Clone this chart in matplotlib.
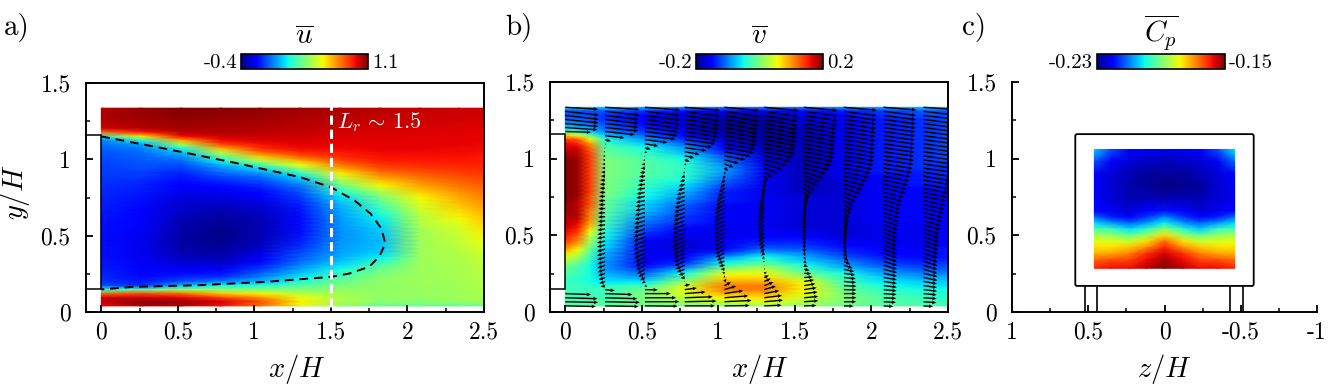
import numpy as np
import matplotlib
matplotlib.use("Agg")
from matplotlib import pyplot as plt
from matplotlib.patches import FancyBboxPatch

plt.rcParams['font.family'] = ['cmr10', 'DejaVu Serif']
plt.rcParams['mathtext.fontset'] = 'cm'
plt.rcParams['axes.unicode_minus'] = False
plt.rcParams['axes.formatter.use_mathtext'] = True

# rows shared by the u and v tables (top to bottom)
y_rows = [1.335, 1.309, 1.282, 1.256, 1.229, 1.203, 1.177, 1.150, 1.124, 1.097,
          1.071, 1.045, 1.018, .992, .965, .939, .912, .886, .860, .833,
          .807, .780, .754, .727, .701, .675, .648, .622, .595, .569,
          .542, .516, .490, .463, .437, .410, .384, .357, .331, .305,
          .278, .252, .225, .199, .172, .146, .120, .093, .067, .040]

x_u = [0, .26, .52, .78, 1.04, 1.30, 1.56, 1.82, 2.08, 2.34, 2.5]
u_mean = [
    [1.02, 1.07, 1.09, 1.09, 1.08, 1.06, 1.04, 1.02, 1.01, 1.0, 1.0],
    [1.04, 1.07, 1.09, 1.08, 1.07, 1.05, 1.03, 1.02, 1.01, 1.0, 1.0],
    [1.04, 1.06, 1.08, 1.07, 1.06, 1.04, 1.03, 1.01, 1.0, 1.0, .99],
    [1.03, 1.05, 1.07, 1.06, 1.05, 1.03, 1.02, 1.01, 1.0, .99, .98],
    [1.02, 1.04, 1.06, 1.05, 1.04, 1.03, 1.01, 1.0, .99, .98, .98],
    [1.0, 1.03, 1.05, 1.04, 1.03, 1.02, 1.0, .99, .98, .98, .97],
    [.8, .92, 1.02, 1.03, 1.02, 1.01, .99, .98, .98, .97, .97],
    [.15, .6, .95, 1.0, 1.0, 1.0, .98, .98, .97, .97, .96],
    [-.03, .18, .7, .95, .98, .98, .97, .97, .97, .96, .96],
    [-.05, .03, .42, .85, .94, .97, .96, .96, .96, .96, .95],
    [-.07, -.03, .18, .68, .9, .95, .95, .96, .96, .95, .95],
    [-.09, -.05, .07, .46, .8, .9, .93, .95, .95, .95, .94],
    [-.1, -.07, .0, .3, .65, .82, .9, .94, .94, .94, .93],
    [-.11, -.08, -.06, .16, .45, .7, .85, .92, .93, .93, .92],
    [-.12, -.09, -.1, .06, .28, .55, .78, .88, .9, .91, .91],
    [-.12, -.1, -.13, -.01, .12, .4, .7, .84, .87, .89, .9],
    [-.13, -.12, -.16, -.06, .02, .25, .6, .78, .83, .87, .88],
    [-.13, -.13, -.18, -.11, -.05, .12, .5, .72, .79, .84, .86],
    [-.14, -.15, -.2, -.15, -.1, .04, .42, .65, .75, .81, .84],
    [-.14, -.16, -.22, -.19, -.14, -.02, .33, .58, .71, .79, .82],
    [-.15, -.17, -.24, -.22, -.18, -.07, .24, .5, .67, .76, .8],
    [-.15, -.18, -.26, -.25, -.21, -.1, .17, .42, .62, .73, .78],
    [-.16, -.19, -.27, -.27, -.24, -.13, .12, .36, .58, .7, .76],
    [-.16, -.2, -.28, -.29, -.26, -.15, .09, .3, .55, .68, .74],
    [-.17, -.2, -.29, -.31, -.28, -.17, .06, .26, .52, .65, .72],
    [-.17, -.21, -.3, -.33, -.3, -.18, .04, .22, .5, .63, .7],
    [-.18, -.22, -.31, -.34, -.31, -.19, .03, .18, .48, .6, .68],
    [-.18, -.22, -.32, -.35, -.32, -.2, .02, .15, .46, .58, .66],
    [-.19, -.23, -.33, -.36, -.33, -.2, .01, .13, .45, .55, .64],
    [-.19, -.23, -.34, -.37, -.33, -.2, .01, .11, .44, .53, .62],
    [-.19, -.24, -.34, -.38, -.33, -.2, 0, .09, .43, .51, .6],
    [-.2, -.24, -.35, -.38, -.33, -.19, 0, .08, .42, .5, .58],
    [-.2, -.25, -.35, -.38, -.33, -.18, 0, .07, .42, .49, .57],
    [-.2, -.25, -.35, -.38, -.32, -.17, .01, .06, .41, .48, .55],
    [-.2, -.25, -.35, -.37, -.31, -.15, .02, .07, .41, .47, .54],
    [-.19, -.25, -.34, -.36, -.29, -.13, .02, .08, .41, .46, .52],
    [-.19, -.25, -.33, -.35, -.27, -.1, .03, .1, .41, .45, .5],
    [-.19, -.25, -.31, -.33, -.24, -.08, .05, .14, .41, .44, .49],
    [-.18, -.24, -.29, -.31, -.21, -.05, .08, .2, .41, .44, .48],
    [-.18, -.24, -.27, -.28, -.17, -.01, .12, .27, .41, .43, .47],
    [-.17, -.23, -.24, -.24, -.12, .03, .17, .32, .41, .43, .47],
    [-.16, -.22, -.2, -.19, -.07, .08, .22, .35, .41, .43, .46],
    [-.15, -.2, -.15, -.13, -.01, .14, .27, .37, .41, .43, .46],
    [-.14, -.18, -.1, -.02, .06, .2, .31, .38, .41, .42, .45],
    [-.1, -.14, .08, .17, .2, .28, .35, .39, .41, .42, .45],
    [.2, .3, .4, .38, .36, .36, .39, .39, .4, .42, .44],
    [.8, .85, .8, .65, .58, .46, .42, .39, .4, .41, .44],
    [1.0, 1.0, .97, .87, .74, .55, .44, .39, .39, .41, .43],
    [1.02, 1.08, 1.07, .99, .84, .58, .44, .38, .38, .4, .42],
    [.95, 1.04, 1.02, .94, .78, .54, .38, .3, .3, .3, .3],
]

x_v = [0, .08, .16, .26, .52, .78, 1.04, 1.30, 1.56, 1.82, 2.08, 2.34, 2.5]
v_mean = [
    [-.06, -.07, -.07, -.07, -.08, -.09, -.1, -.1, -.1, -.09, -.08, -.07, -.07],
    [-.12, -.12, -.12, -.12, -.13, -.15, -.16, -.16, -.15, -.14, -.13, -.12, -.12],
    [-.12, -.12, -.12, -.13, -.15, -.17, -.18, -.18, -.16, -.15, -.13, -.12, -.12],
    [-.11, -.11, -.12, -.13, -.15, -.17, -.19, -.19, -.17, -.15, -.14, -.13, -.12],
    [-.09, -.1, -.11, -.12, -.15, -.17, -.19, -.19, -.17, -.16, -.14, -.13, -.12],
    [-.07, -.08, -.09, -.11, -.14, -.17, -.19, -.19, -.18, -.16, -.14, -.13, -.12],
    [-.02, -.05, -.07, -.1, -.13, -.16, -.19, -.19, -.18, -.16, -.14, -.13, -.12],
    [.08, .06, -.01, -.07, -.11, -.15, -.18, -.19, -.18, -.16, -.14, -.13, -.12],
    [.14, .13, .06, -.05, -.09, -.13, -.17, -.19, -.18, -.16, -.14, -.13, -.12],
    [.16, .15, .1, -.03, -.07, -.11, -.16, -.19, -.18, -.16, -.14, -.13, -.12],
    [.17, .17, .12, -.02, -.05, -.09, -.15, -.18, -.18, -.16, -.14, -.13, -.12],
    [.18, .18, .13, -.01, -.04, -.08, -.14, -.18, -.18, -.16, -.14, -.13, -.12],
    [.19, .18, .14, -.01, -.03, -.06, -.12, -.17, -.18, -.16, -.14, -.13, -.12],
    [.2, .19, .14, 0, -.02, -.05, -.11, -.17, -.18, -.16, -.14, -.13, -.12],
    [.2, .19, .14, 0, -.02, -.04, -.1, -.16, -.18, -.16, -.14, -.13, -.13],
    [.2, .19, .14, 0, -.02, -.04, -.09, -.16, -.18, -.16, -.14, -.13, -.13],
    [.2, .19, .14, 0, -.02, -.04, -.09, -.16, -.18, -.16, -.14, -.14, -.13],
    [.2, .19, .14, 0, -.02, -.04, -.1, -.16, -.18, -.16, -.15, -.14, -.13],
    [.2, .19, .14, 0, -.03, -.05, -.11, -.16, -.18, -.17, -.15, -.14, -.14],
    [.2, .19, .14, 0, -.03, -.06, -.12, -.16, -.18, -.17, -.15, -.14, -.14],
    [.2, .19, .14, 0, -.04, -.07, -.13, -.16, -.18, -.17, -.15, -.15, -.14],
    [.2, .19, .14, 0, -.05, -.08, -.14, -.16, -.18, -.17, -.15, -.15, -.15],
    [.2, .19, .13, 0, -.05, -.09, -.14, -.16, -.17, -.17, -.15, -.15, -.15],
    [.2, .18, .13, -.01, -.06, -.1, -.14, -.16, -.17, -.17, -.15, -.15, -.15],
    [.19, .18, .13, -.01, -.07, -.11, -.15, -.16, -.17, -.17, -.15, -.15, -.15],
    [.19, .18, .12, -.01, -.07, -.12, -.15, -.16, -.17, -.17, -.15, -.15, -.15],
    [.19, .18, .11, -.02, -.08, -.12, -.15, -.16, -.17, -.17, -.15, -.15, -.15],
    [.18, .18, .11, -.02, -.09, -.13, -.15, -.16, -.17, -.17, -.15, -.15, -.15],
    [.18, .17, .1, -.03, -.1, -.13, -.15, -.16, -.17, -.17, -.15, -.15, -.15],
    [.18, .16, .09, -.03, -.11, -.14, -.16, -.16, -.17, -.17, -.16, -.16, -.15],
    [.17, .15, .07, -.04, -.12, -.15, -.16, -.16, -.17, -.17, -.16, -.16, -.15],
    [.16, .14, .05, -.05, -.13, -.16, -.16, -.15, -.16, -.17, -.16, -.16, -.15],
    [.15, .12, .03, -.05, -.14, -.16, -.16, -.15, -.15, -.17, -.16, -.16, -.15],
    [.14, .11, .02, -.06, -.15, -.17, -.16, -.14, -.14, -.16, -.16, -.16, -.15],
    [.12, .09, .01, -.06, -.15, -.17, -.15, -.13, -.13, -.15, -.16, -.16, -.15],
    [.1, .06, -.01, -.07, -.16, -.17, -.15, -.11, -.12, -.14, -.15, -.15, -.14],
    [.07, .04, -.02, -.08, -.16, -.16, -.13, -.08, -.1, -.13, -.15, -.15, -.14],
    [.04, .02, -.03, -.08, -.16, -.15, -.09, -.05, -.08, -.12, -.14, -.15, -.14],
    [.02, 0, -.04, -.09, -.16, -.14, -.06, -.03, -.07, -.1, -.13, -.14, -.13],
    [0, -.02, -.05, -.09, -.15, -.12, -.03, 0, -.05, -.09, -.12, -.13, -.12],
    [-.01, -.03, -.05, -.09, -.13, -.08, .01, .03, -.03, -.07, -.1, -.12, -.11],
    [-.02, -.03, -.05, -.08, -.11, -.05, .05, .05, -.01, -.05, -.09, -.1, -.1],
    [-.03, -.04, -.05, -.07, -.09, -.02, .07, .07, .02, -.04, -.07, -.09, -.08],
    [-.03, -.04, -.05, -.06, -.06, .01, .09, .09, .05, -.03, -.06, -.07, -.07],
    [-.03, -.03, -.04, -.04, -.03, .04, .11, .11, .06, -.02, -.05, -.06, -.06],
    [-.03, -.03, -.03, -.03, -.01, .05, .11, .11, .06, -.01, -.04, -.05, -.05],
    [-.03, -.03, -.03, -.03, 0, .05, .09, .09, .05, 0, -.03, -.04, -.05],
    [-.03, -.03, -.03, -.03, 0, .03, .06, .07, .04, 0, -.02, -.03, -.04],
    [-.02, -.02, -.02, -.02, 0, .02, .04, .05, .03, 0, -.02, -.03, -.03],
    [-.02, -.02, -.02, -.02, -.01, 0, .01, .02, .01, -.01, -.02, -.02, -.03],
]

z_cp = [.46, .35, .23, .12, 0, -.12, -.23, -.35, -.46]
y_cp = [1.06, .98, .9, .82, .74, .66, .62, .58, .54, .5, .46, .42, .38, .34, .285]
cp_mean = [
    [-.204, -.214, -.220, -.222, -.222, -.222, -.220, -.214, -.202],
    [-.214, -.222, -.224, -.225, -.226, -.225, -.224, -.222, -.212],
    [-.220, -.224, -.226, -.228, -.228, -.228, -.226, -.224, -.220],
    [-.222, -.224, -.227, -.228, -.230, -.229, -.228, -.224, -.222],
    [-.221, -.224, -.226, -.226, -.226, -.226, -.226, -.224, -.222],
    [-.220, -.222, -.224, -.221, -.219, -.221, -.224, -.222, -.220],
    [-.212, -.218, -.220, -.216, -.210, -.216, -.220, -.218, -.212],
    [-.203, -.208, -.212, -.208, -.201, -.208, -.212, -.208, -.203],
    [-.194, -.196, -.202, -.198, -.188, -.198, -.204, -.196, -.194],
    [-.186, -.188, -.192, -.187, -.176, -.187, -.192, -.188, -.186],
    [-.180, -.180, -.182, -.176, -.166, -.176, -.182, -.180, -.180],
    [-.176, -.176, -.174, -.169, -.160, -.169, -.174, -.176, -.176],
    [-.172, -.171, -.168, -.161, -.156, -.161, -.168, -.171, -.172],
    [-.166, -.164, -.163, -.158, -.153, -.158, -.163, -.164, -.166],
    [-.160, -.158, -.158, -.154, -.150, -.154, -.158, -.158, -.160],
]

# dividing streamline of panel a
sep_x = [0, .43, .86, 1.3, 1.5, 1.655, 1.76, 1.83, 1.855, 1.817, 1.75, 1.62, 1.5, 1.08, .643, .21, 0]
sep_y = [1.15, 1.067, .98, .883, .817, .73, .643, .546, .448, .365, .296, .252, .23, .198, .176, .165, .148]

# arrow stations: columns of u_mean and v_mean
station_u = [0, 1, 2, 3, 4, 5, 6, 7, 8, 9]
station_v = [0, 3, 4, 5, 6, 7, 8, 9, 10, 11]
body_top = 1.16
body_bottom = .15
arrow_scale = .21

W, H = 1330, 384
fig = plt.figure(figsize=(W / 100, H / 100), dpi=100)


def px_axes(left, right, top, bottom):
    return fig.add_axes([left / W, 1 - bottom / H, (right - left) / W, (bottom - top) / H])


def style_axes(ax, xticks, xlabels, xminor, xlabel, label_x, ylabel=None):
    ax.set_ylim(0, 1.5)
    ax.set_xticks(xticks)
    ax.set_xticklabels(xlabels)
    ax.set_xticks(xminor, minor=True)
    ax.set_yticks([0, .5, 1, 1.5])
    ax.set_yticklabels(['0', '0.5', '1', '1.5'])
    ax.set_yticks([.25, .75, 1.25], minor=True)
    ax.tick_params(which='major', direction='in', length=5, width=1.3, labelsize=17)
    ax.tick_params(which='minor', direction='in', length=3, width=1.1)
    ax.tick_params(axis='x', which='major', pad=7)
    ax.tick_params(axis='y', which='major', pad=11)
    for s in ax.spines.values():
        s.set_linewidth(1.4)
    ax.set_xlabel(xlabel, fontsize=20.5, labelpad=6)
    ax.xaxis.label.set_x(label_x)
    if ylabel:
        ax.set_ylabel(ylabel, fontsize=20.5, labelpad=6)
        ax.yaxis.label.set_y(.524)


def colorbar(mesh, left, right, title, lo, hi, title_y=37):
    cax = px_axes(left, right, 54, 69)
    cb = fig.colorbar(mesh, cax=cax, orientation='horizontal')
    cb.set_ticks([])
    cb.outline.set_linewidth(1.2)
    fig.text((left - 4) / W, 1 - 63 / H, lo, ha='right', va='center', fontsize=15)
    fig.text((right + 4) / W, 1 - 63 / H, hi, ha='left', va='center', fontsize=15)
    fig.text((left + right) / 2 / W, 1 - title_y / H, title, ha='center', va='center', fontsize=21)


def draw_body(ax):
    ax.plot([-.1, 0, 0, -.1], [body_top, body_top, body_bottom, body_bottom], color='k', lw=1.1, solid_joinstyle='miter')


xticks = [0, .5, 1, 1.5, 2, 2.5]
xlabels = ['0', '0.5', '1', '1.5', '2', '2.5']
xminor = [.25, .75, 1.25, 1.75, 2.25]

# panel a
ax1 = px_axes(86, 484, 83, 312)
m1 = ax1.pcolormesh(x_u, y_rows, u_mean, shading='gouraud', cmap='jet', vmin=-.4, vmax=1.1)
draw_body(ax1)
ax1.plot(sep_x, sep_y, color='k', lw=1.4, dashes=(4.5, 3))
ax1.plot([1.5, 1.5], [.035, 1.35], color='w', lw=2.2, dashes=(3, 1.6))
ax1.text(1.54, 1.245, r'$L_r\,\sim\,1.5$', color='w', fontsize=16, va='center')
ax1.set_xlim(-.1, 2.5)
style_axes(ax1, xticks, xlabels, xminor, r'$x/H$', .53, r'$y/H$')
colorbar(m1, 241, 368, r'$\overline{u}$', '-0.4', '1.1')

# panel b
ax2 = px_axes(550, 948, 82, 312)
m2 = ax2.pcolormesh(x_v, y_rows, v_mean, shading='gouraud', cmap='jet', vmin=-.2, vmax=.2)
draw_body(ax2)
for su, sv in zip(station_u, station_v):
    keep = [r for r, yr in enumerate(y_rows)
            if not (su == 0 and body_bottom - .02 < yr < body_top + .01)]
    ax2.quiver([x_u[su]] * len(keep), [y_rows[r] for r in keep],
               [u_mean[r][su] for r in keep], [v_mean[r][sv] for r in keep],
               angles='xy', scale_units='xy', scale=1 / arrow_scale, units='dots',
               width=1.4, headwidth=2.6, headlength=3, headaxislength=2.8,
               minlength=.5, color='k', zorder=3)
ax2.set_xlim(-.1, 2.5)
style_axes(ax2, xticks, xlabels, xminor, r'$x/H$', .528)
colorbar(m2, 696, 823, r'$\overline{v}$', '-0.2', '0.2')

# panel c
ax3 = px_axes(1012, 1317, 82, 312)
m3 = ax3.pcolormesh(z_cp, y_cp, cp_mean, shading='gouraud', cmap='jet', vmin=-.23, vmax=-.15)
ax3.add_patch(FancyBboxPatch((-.585, .17), 1.17, .99, boxstyle='round,pad=0,rounding_size=.012',
                             fc='none', ec='k', lw=1.3, zorder=3))
for z0, z1 in [(.52, .44), (-.43, -.515)]:
    ax3.plot([z0, z0], [0, .165], color='k', lw=1.2)
    ax3.plot([z1, z1], [0, .165], color='k', lw=1.2)
ax3.set_xlim(1, -1)
style_axes(ax3, [1, .5, 0, -.5, -1], ['1', '0.5', '0', '-0.5', '-1'], [.75, .25, -.25, -.75], r'$z/H$', .5)
ax3.spines['top'].set_visible(False)
ax3.spines['right'].set_visible(False)
colorbar(m3, 1097, 1225, r'$\overline{C_p}$', '-0.23', '-0.15', title_y=33)

fig.text(4 / W, 1 - 28 / H, 'a)', fontsize=21, va='center')
fig.text(505 / W, 1 - 28 / H, 'b)', fontsize=21, va='center')
fig.text(962 / W, 1 - 28 / H, 'c)', fontsize=21, va='center')

fig.savefig('out.png', dpi=100)
